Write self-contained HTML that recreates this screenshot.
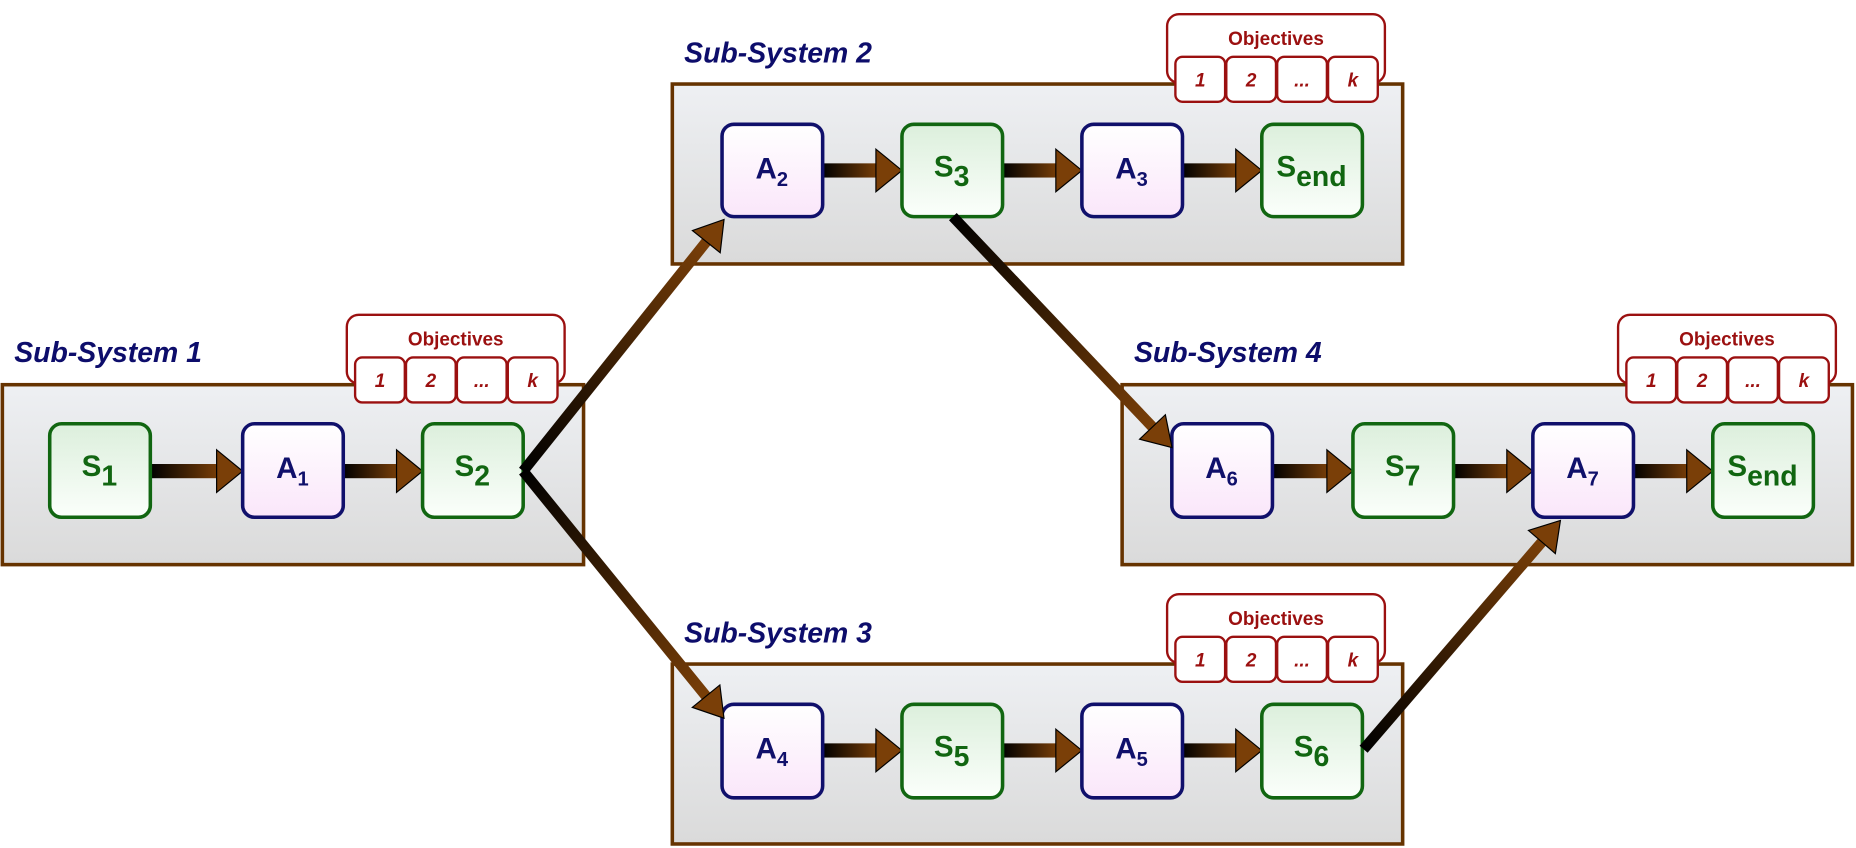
<!DOCTYPE html>
<html><head><meta charset="utf-8"><style>html,body{margin:0;padding:0;background:#fff}svg{display:block}</style></head>
<body>
<svg width="1856" height="848" viewBox="0 0 1568 716.4" preserveAspectRatio="none" xmlns="http://www.w3.org/2000/svg" font-family="Liberation Sans, sans-serif">
<defs>
<linearGradient id="bx" x1="0" y1="0" x2="0" y2="1"><stop offset="0" stop-color="#eef0f3"/><stop offset="1" stop-color="#dadada"/></linearGradient>
<linearGradient id="gs" x1="0" y1="0" x2="0" y2="1"><stop offset="0" stop-color="#dcefdc"/><stop offset="1" stop-color="#fbfffb"/></linearGradient>
<linearGradient id="ga" x1="0" y1="0" x2="0" y2="1"><stop offset="0" stop-color="#ffffff"/><stop offset="1" stop-color="#fae6fa"/></linearGradient>
<linearGradient id="ar" x1="0" y1="0" x2="1" y2="0"><stop offset="0" stop-color="#000"/><stop offset="1" stop-color="#7a3f08"/></linearGradient>
<g id="obj">
<rect x="0" y="0" width="184" height="58" rx="10" fill="#fff" stroke="#9b1010" stroke-width="2"/>
<text x="92" y="26" text-anchor="middle" font-size="16" font-weight="bold" fill="#9b1010">Objectives</text>
<g fill="#fff" stroke="#9b1010" stroke-width="2">
<rect x="7" y="36" width="42" height="38" rx="6"/><rect x="50" y="36" width="42" height="38" rx="6"/><rect x="93" y="36" width="42" height="38" rx="6"/><rect x="136" y="36" width="42" height="38" rx="6"/>
</g>
<g font-size="16" font-weight="bold" font-style="italic" fill="#9b1010" text-anchor="middle">
<text x="28" y="61">1</text><text x="71" y="61">2</text><text x="114" y="61">...</text><text x="157" y="61">k</text>
</g>
</g>
</defs>
<g fill="url(#bx)" stroke="#663300" stroke-width="3">
<rect x="2" y="325" width="491" height="152"/>
<rect x="568" y="71" width="617" height="152"/>
<rect x="948" y="325" width="617" height="152"/>
<rect x="568" y="561" width="617" height="152"/>
</g>
<g font-weight="bold" font-style="italic" font-size="24" fill="#0d0d6b">
<text x="12" y="306">Sub-System 1</text>
<text x="578" y="53">Sub-System 2</text>
<text x="958" y="306">Sub-System 4</text>
<text x="578" y="543">Sub-System 3</text>
</g>
<use href="#obj" transform="translate(293,266)"/>
<use href="#obj" transform="translate(986,12)"/>
<use href="#obj" transform="translate(1367,266)"/>
<use href="#obj" transform="translate(986,502)"/>
<g>
<g transform="translate(127,398)"><rect x="0" y="-6" width="58" height="12" fill="url(#ar)"/><polygon points="56,-18 78,0 56,18" fill="#7a3f08" stroke="#000"/></g>
<g transform="translate(290,398)"><rect x="0" y="-6" width="47" height="12" fill="url(#ar)"/><polygon points="45,-18 67,0 45,18" fill="#7a3f08" stroke="#000"/></g>
<g transform="translate(695,144)"><rect x="0" y="-6" width="47" height="12" fill="url(#ar)"/><polygon points="45,-18 67,0 45,18" fill="#7a3f08" stroke="#000"/></g>
<g transform="translate(847,144)"><rect x="0" y="-6" width="47" height="12" fill="url(#ar)"/><polygon points="45,-18 67,0 45,18" fill="#7a3f08" stroke="#000"/></g>
<g transform="translate(999,144)"><rect x="0" y="-6" width="47" height="12" fill="url(#ar)"/><polygon points="45,-18 67,0 45,18" fill="#7a3f08" stroke="#000"/></g>
<g transform="translate(695,634)"><rect x="0" y="-6" width="47" height="12" fill="url(#ar)"/><polygon points="45,-18 67,0 45,18" fill="#7a3f08" stroke="#000"/></g>
<g transform="translate(847,634)"><rect x="0" y="-6" width="47" height="12" fill="url(#ar)"/><polygon points="45,-18 67,0 45,18" fill="#7a3f08" stroke="#000"/></g>
<g transform="translate(999,634)"><rect x="0" y="-6" width="47" height="12" fill="url(#ar)"/><polygon points="45,-18 67,0 45,18" fill="#7a3f08" stroke="#000"/></g>
<g transform="translate(1075,398)"><rect x="0" y="-6" width="48" height="12" fill="url(#ar)"/><polygon points="46,-18 68,0 46,18" fill="#7a3f08" stroke="#000"/></g>
<g transform="translate(1228,398)"><rect x="0" y="-6" width="47" height="12" fill="url(#ar)"/><polygon points="45,-18 67,0 45,18" fill="#7a3f08" stroke="#000"/></g>
<g transform="translate(1380,398)"><rect x="0" y="-6" width="47" height="12" fill="url(#ar)"/><polygon points="45,-18 67,0 45,18" fill="#7a3f08" stroke="#000"/></g>
</g>
<g stroke-width="3">
<rect x="42" y="358" width="85" height="79" rx="10" fill="url(#gs)" stroke="#116611"/>
<rect x="205" y="358" width="85" height="79" rx="10" fill="url(#ga)" stroke="#10106b"/>
<rect x="357" y="358" width="85" height="79" rx="10" fill="url(#gs)" stroke="#116611"/>
<rect x="610" y="105" width="85" height="78" rx="10" fill="url(#ga)" stroke="#10106b"/>
<rect x="762" y="105" width="85" height="78" rx="10" fill="url(#gs)" stroke="#116611"/>
<rect x="914" y="105" width="85" height="78" rx="10" fill="url(#ga)" stroke="#10106b"/>
<rect x="1066" y="105" width="85" height="78" rx="10" fill="url(#gs)" stroke="#116611"/>
<rect x="990" y="358" width="85" height="79" rx="10" fill="url(#ga)" stroke="#10106b"/>
<rect x="1143" y="358" width="85" height="79" rx="10" fill="url(#gs)" stroke="#116611"/>
<rect x="1295" y="358" width="85" height="79" rx="10" fill="url(#ga)" stroke="#10106b"/>
<rect x="1447" y="358" width="85" height="79" rx="10" fill="url(#gs)" stroke="#116611"/>
<rect x="610" y="595" width="85" height="79" rx="10" fill="url(#ga)" stroke="#10106b"/>
<rect x="762" y="595" width="85" height="79" rx="10" fill="url(#gs)" stroke="#116611"/>
<rect x="914" y="595" width="85" height="79" rx="10" fill="url(#ga)" stroke="#10106b"/>
<rect x="1066" y="595" width="85" height="79" rx="10" fill="url(#gs)" stroke="#116611"/>
</g>
<g font-size="25" font-weight="bold" text-anchor="middle">
<g fill="#116611">
<text x="84" y="402">S<tspan font-size="24" dy="8">1</tspan></text>
<text x="399" y="402">S<tspan font-size="24" dy="8">2</tspan></text>
<text x="804" y="149">S<tspan font-size="24" dy="8">3</tspan></text>
<text x="1108" y="149">S<tspan font-size="24" dy="8">end</tspan></text>
<text x="1185" y="402">S<tspan font-size="24" dy="8">7</tspan></text>
<text x="1489" y="402">S<tspan font-size="24" dy="8">end</tspan></text>
<text x="804" y="639">S<tspan font-size="24" dy="8">5</tspan></text>
<text x="1108" y="639">S<tspan font-size="24" dy="8">6</tspan></text>
</g>
<g fill="#10106b">
<text x="247" y="404">A<tspan font-size="17" dy="6">1</tspan></text>
<text x="652" y="151">A<tspan font-size="17" dy="6">2</tspan></text>
<text x="956" y="151">A<tspan font-size="17" dy="6">3</tspan></text>
<text x="1032" y="404">A<tspan font-size="17" dy="6">6</tspan></text>
<text x="1337" y="404">A<tspan font-size="17" dy="6">7</tspan></text>
<text x="652" y="641">A<tspan font-size="17" dy="6">4</tspan></text>
<text x="956" y="641">A<tspan font-size="17" dy="6">5</tspan></text>
</g>
</g>
<g transform="translate(442,398) rotate(-51.4)"><rect x="0" y="-4.5" width="250" height="9" fill="url(#ar)"/><polygon points="248,-15 272,0 248,15" fill="#7a3f08" stroke="#000"/></g>
<g transform="translate(442,398) rotate(50.9)"><rect x="0" y="-4.5" width="247" height="9" fill="url(#ar)"/><polygon points="245,-15 269,0 245,15" fill="#7a3f08" stroke="#000"/></g>
<g transform="translate(805,183) rotate(46.5)"><rect x="0" y="-4.5" width="247" height="9" fill="url(#ar)"/><polygon points="245,-15 269,0 245,15" fill="#7a3f08" stroke="#000"/></g>
<g transform="translate(1152,633) rotate(-49.3)"><rect x="0" y="-4.5" width="233" height="9" fill="url(#ar)"/><polygon points="231,-15 255,0 231,15" fill="#7a3f08" stroke="#000"/></g>
</svg>
</body></html>
